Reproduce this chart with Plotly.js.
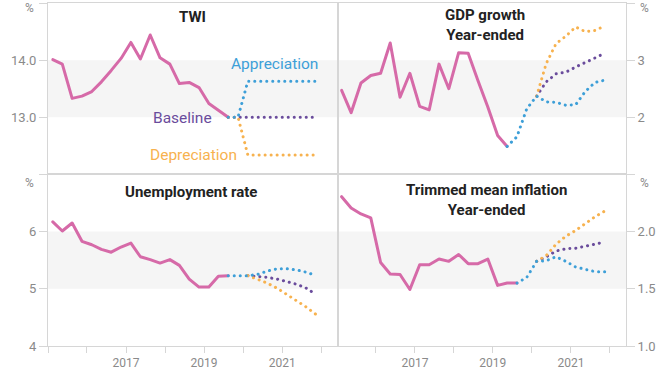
<!DOCTYPE html>
<html>
<head>
<meta charset="utf-8">
<script src="https://cdn.plot.ly/plotly-3.0.1.min.js"></script>
<style>
html,body{margin:0;padding:0;background:#fff;}
#chart{width:669px;height:369px;}
#chart .js-line{stroke-linecap:round;stroke-linejoin:round;}
</style>
</head>
<body>
<div id="chart"></div>
<script>
// ---------- DATA ----------
const histDates = ['2015-02-15','2015-05-15','2015-08-15','2015-11-15','2016-02-15','2016-05-15','2016-08-15','2016-11-15',
  '2017-02-15','2017-05-15','2017-08-15','2017-11-15','2018-02-15','2018-05-15','2018-08-15','2018-11-15',
  '2019-02-15','2019-05-15','2019-08-15'];
const gdpDates = histDates.slice(0, 18);
const fcDates = ['2019-08-15','2019-11-15','2020-02-15','2020-05-15','2020-08-15','2020-11-15','2021-02-15','2021-05-15','2021-08-15','2021-11-15'];
const gdpFcDates = ['2019-05-15','2019-08-15','2019-11-15','2020-02-15','2020-05-15','2020-08-15','2020-11-15','2021-02-15','2021-05-15','2021-08-15','2021-11-15'];
const splitDates = fcDates.slice(2);        // scenarios diverge from here
const gdpSplitDates = gdpFcDates.slice(3);

const twi = [14.01, 13.93, 13.33, 13.37, 13.45, 13.62, 13.82, 14.03, 14.31, 14.02, 14.44, 14.04, 13.93, 13.59, 13.61, 13.52, 13.24, 13.12, 13.0];
const twiBaseline = [13.0, 13.0, 13.0, 13.0, 13.0, 13.0, 13.0, 13.0, 13.0, 13.0];
const twiAppreciation = [13.0, 13.0, 13.63, 13.63, 13.63, 13.63, 13.63, 13.63, 13.63, 13.63];
const twiDepreciation = [13.0, 13.0, 12.34, 12.34, 12.34, 12.34, 12.34, 12.34, 12.34, 12.34];

const gdp = [2.47, 2.08, 2.60, 2.73, 2.77, 3.30, 2.35, 2.77, 2.19, 2.13, 2.93, 2.50, 3.13, 3.12, 2.64, 2.18, 1.68, 1.49];
const gdpAppreciation = [1.49, 1.66, 2.15, 2.37, 2.27, 2.26, 2.21, 2.22, 2.45, 2.61, 2.65];
const gdpBaseline = [2.37, 2.62, 2.76, 2.79, 2.88, 2.96, 3.03, 3.12];
const gdpDepreciation = [2.37, 2.94, 3.29, 3.42, 3.58, 3.50, 3.52, 3.60];

const unemp = [6.17, 6.01, 6.15, 5.83, 5.77, 5.69, 5.64, 5.73, 5.80, 5.56, 5.51, 5.45, 5.51, 5.41, 5.17, 5.03, 5.03, 5.22, 5.23];
const unempAppreciation = [5.23, 5.23, 5.23, 5.25, 5.31, 5.35, 5.35, 5.33, 5.29, 5.23];
const unempBaseline = [5.23, 5.22, 5.20, 5.17, 5.12, 5.08, 5.01, 4.90];
const unempDepreciation = [5.23, 5.16, 5.10, 5.01, 4.90, 4.80, 4.68, 4.55];

const tmean = [2.305, 2.206, 2.154, 2.12, 1.73, 1.63, 1.625, 1.494, 1.71, 1.71, 1.76, 1.74, 1.80, 1.72, 1.72, 1.76, 1.53, 1.55, 1.55];
const tmeanAppreciation = [1.55, 1.60, 1.74, 1.745, 1.78, 1.74, 1.69, 1.67, 1.65, 1.65];
const tmeanBaseline = [1.74, 1.78, 1.83, 1.85, 1.855, 1.87, 1.89, 1.91];
const tmeanDepreciation = [1.74, 1.79, 1.89, 1.96, 2.01, 2.07, 2.13, 2.18];

const yearTicks = ['2015-01-01','2016-01-01','2017-01-01','2018-01-01','2019-01-01','2020-01-01','2021-01-01','2022-01-01'];
const yearLabels = ['', '', '2017', '', '2019', '', '2021', ''];

const titles = {tl: ['TWI'], tr: ['GDP growth', 'Year-ended'], bl: ['Unemployment rate'], br: ['Trimmed mean inflation', 'Year-ended']};
const scenarioNames = ['Appreciation', 'Baseline', 'Depreciation'];

// ---------- STYLE ----------
const PINK = '#d66aa8', BLUE = '#3d9fd8', PURPLE = '#6a4c9c', ORANGE = '#f7b24f';
const GRID = '#d6d6d6', TICKC = '#8a8a8a', TITLEC = '#222222';
const FONT = 'Roboto, Arial, sans-serif';
const W = 669, H = 369, ML = 48, MR = 43, MT = 3, MB = 23;
const PW = W - ML - MR, PH = H - MT - MB;
const px = x => (x - ML) / PW;
const py = y => (H - MB - y) / PH;
const xSplit = px(338), ySplit = py(174.4);

function hist(x, y, xa, ya) {
  return {x: x, y: y, xaxis: xa, yaxis: ya, mode: 'lines', line: {color: PINK, width: 3}, hoverinfo: 'skip'};
}
function fc(x, y, xa, ya, color) {
  return {x: x, y: y, xaxis: xa, yaxis: ya, mode: 'lines', line: {color: color, width: 3, dash: '0.1px,5.9px'}, hoverinfo: 'skip'};
}

const data = [
  hist(histDates, twi, 'x', 'y'),
  fc(fcDates, twiBaseline, 'x', 'y', PURPLE),
  fc(fcDates, twiDepreciation, 'x', 'y', ORANGE),
  fc(fcDates, twiAppreciation, 'x', 'y', BLUE),

  hist(gdpDates, gdp, 'x2', 'y2'),
  fc(gdpSplitDates, gdpBaseline, 'x2', 'y2', PURPLE),
  fc(gdpSplitDates, gdpDepreciation, 'x2', 'y2', ORANGE),
  fc(gdpFcDates, gdpAppreciation, 'x2', 'y2', BLUE),

  hist(histDates, unemp, 'x3', 'y3'),
  fc(splitDates, unempBaseline, 'x3', 'y3', PURPLE),
  fc(splitDates, unempDepreciation, 'x3', 'y3', ORANGE),
  fc(fcDates, unempAppreciation, 'x3', 'y3', BLUE),

  hist(histDates, tmean, 'x4', 'y4'),
  fc(splitDates, tmeanBaseline, 'x4', 'y4', PURPLE),
  fc(splitDates, tmeanDepreciation, 'x4', 'y4', ORANGE),
  fc(fcDates, tmeanAppreciation, 'x4', 'y4', BLUE)
];

const yTickFont = {family: FONT, size: 13, color: TICKC};
const xTickFont = {family: FONT, size: 12, color: TICKC};
function xax(domain, range, anchor, labels) {
  return {domain: domain, range: range, anchor: anchor, type: 'date', showgrid: false, zeroline: false,
    showline: true, linecolor: GRID, linewidth: 1, mirror: true,
    tickmode: 'array', tickvals: yearTicks, ticktext: yearLabels, showticklabels: labels,
    ticks: labels ? 'outside' : '', ticklen: 6, tickcolor: GRID, tickfont: xTickFont};
}
function yax(domain, range, anchor, side, vals, text) {
  return {domain: domain, range: range, anchor: anchor, side: side, showgrid: false, zeroline: false,
    showline: true, linecolor: GRID, linewidth: 1, mirror: true,
    tickmode: 'array', tickvals: vals, ticktext: text, ticks: 'outside', ticklen: 8, tickcolor: GRID, tickfont: yTickFont};
}
const leftRange = ['2015-01-01', '2022-06-08'];
const rightRange = ['2015-01-12', '2022-06-01'];

function band(xr, yr, y0, y1) {
  return {type: 'rect', xref: xr + ' domain', yref: yr, x0: 0, x1: 1, y0: y0, y1: y1,
    fillcolor: '#f5f5f5', line: {width: 0}, layer: 'below'};
}

function ann(lines, x, y, color, size, bold) {
  const t = lines.map(s => bold ? '<b>' + s + '</b>' : s).join('<br>');
  return {text: t, xref: 'paper', yref: 'paper', x: px(x), y: py(y),
    xanchor: 'center', yanchor: 'middle', showarrow: false, font: {family: FONT, size: size, color: color}};
}

const annotations = [
  ann(titles.tl, 192, 16.5, TITLEC, 15, true),
  ann(titles.tr, 485, 24.5, TITLEC, 15, true),
  ann(titles.bl, 191, 192, TITLEC, 15, true),
  ann(titles.br, 486, 200, TITLEC, 15, true),
  ann([scenarioNames[0]], 274, 64.5, BLUE, 15.5, false),
  ann([scenarioNames[1]], 182.5, 118, PURPLE, 15.5, false),
  ann([scenarioNames[2]], 193, 155, ORANGE, 15.5, false),
  ann(['%'], 29, 8, TICKC, 12, false),
  ann(['%'], 644, 8, TICKC, 12, false),
  ann(['%'], 29, 183, TICKC, 12, false),
  ann(['%'], 644, 183, TICKC, 12, false)
];

const layout = {
  width: W, height: H, margin: {l: ML, r: MR, t: MT, b: MB, pad: 0},
  paper_bgcolor: '#ffffff', plot_bgcolor: 'rgba(0,0,0,0)',
  showlegend: false, font: {family: FONT},
  xaxis: xax([0, xSplit], leftRange, 'y', false),
  yaxis: yax([ySplit, 1], [12, 15], 'x', 'left', [12, 13, 14, 15], ['', '13.0', '14.0', '']),
  xaxis2: xax([xSplit, 1], rightRange, 'y2', false),
  yaxis2: yax([ySplit, 1], [1, 4], 'x2', 'right', [1, 2, 3, 4], ['', '2', '3', '']),
  xaxis3: xax([0, xSplit], leftRange, 'y3', true),
  yaxis3: yax([0, ySplit], [4, 7], 'x3', 'left', [4, 5, 6, 7], ['4', '5', '6', '']),
  xaxis4: xax([xSplit, 1], rightRange, 'y4', true),
  yaxis4: yax([0, ySplit], [1, 2.5], 'x4', 'right', [1, 1.5, 2, 2.5], ['1.0', '1.5', '2.0', '']),
  shapes: [band('x', 'y', 13, 14), band('x2', 'y2', 2, 3), band('x3', 'y3', 5, 6), band('x4', 'y4', 1.5, 2)],
  annotations: annotations
};

Plotly.newPlot('chart', data, layout, {staticPlot: true, displayModeBar: false});
</script>
</body>
</html>
